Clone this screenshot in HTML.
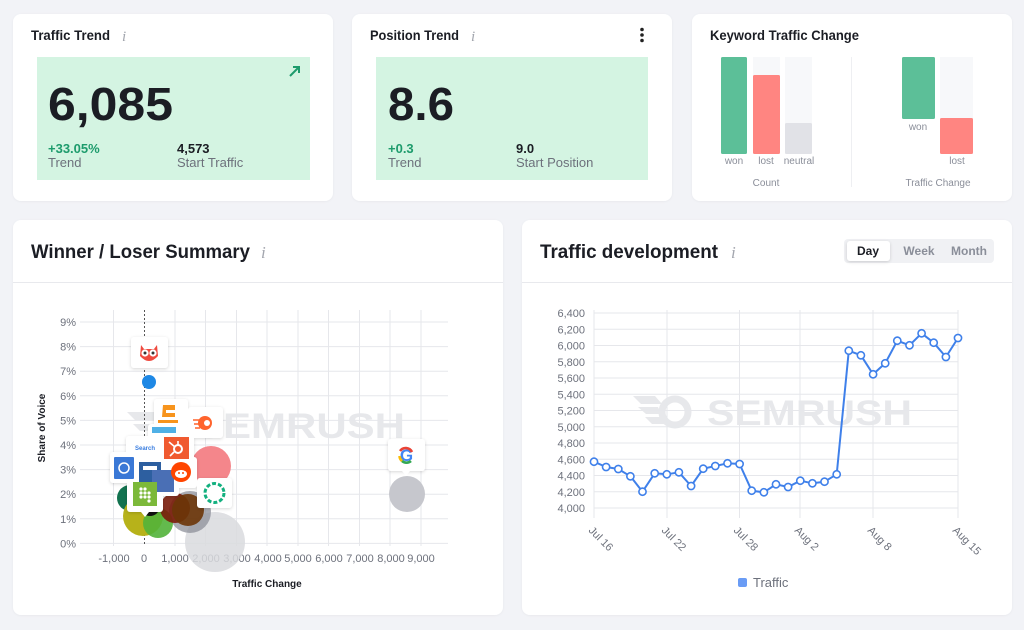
<!DOCTYPE html>
<html><head><meta charset="utf-8"><style>
html,body{margin:0;padding:0;background:#f2f3f7;}
body{width:1024px;height:630px;overflow:hidden;position:relative;font-family:"Liberation Sans",sans-serif;}
svg{position:absolute;left:0;top:0;}
</style></head><body>
<svg width="1024" height="630" viewBox="0 0 1024 630" xmlns="http://www.w3.org/2000/svg" font-family="Liberation Sans, sans-serif">
<defs>
<filter id="sh" x="-30%" y="-30%" width="160%" height="160%"><feDropShadow dx="0" dy="1" stdDeviation="1.6" flood-color="#000" flood-opacity="0.16"/></filter>
<filter id="cs" x="-5%" y="-5%" width="110%" height="110%"><feDropShadow dx="0" dy="0.5" stdDeviation="1" flood-color="#000" flood-opacity="0.05"/></filter>
</defs>
<rect width="1024" height="630" fill="#f2f3f7"/>
<!-- cards -->
<rect x="13" y="14" width="320" height="187" rx="8" fill="#fff" filter="url(#cs)"/>
<rect x="352" y="14" width="320" height="187" rx="8" fill="#fff" filter="url(#cs)"/>
<rect x="692" y="14" width="320" height="187" rx="8" fill="#fff" filter="url(#cs)"/>
<rect x="13" y="220" width="490" height="395" rx="8" fill="#fff" filter="url(#cs)"/>
<rect x="522" y="220" width="490" height="395" rx="8" fill="#fff" filter="url(#cs)"/>
<line x1="13" y1="282.5" x2="503" y2="282.5" stroke="#e8e9ed"/>
<line x1="522" y1="282.5" x2="1012" y2="282.5" stroke="#e8e9ed"/>

<!-- Traffic Trend -->
<text x="31" y="40" font-size="14" font-weight="bold" fill="#1b1d24" textLength="79" lengthAdjust="spacingAndGlyphs">Traffic Trend</text>
<text x="122" y="41" font-size="15" font-family="Liberation Serif, serif" font-style="italic" fill="#a3a6ae">i</text>
<rect x="37" y="57" width="273" height="123" fill="#d4f4e2"/>
<path d="M290 76 L299 67 M293 67 L299 67 L299 73" stroke="#1d9b6c" stroke-width="2" fill="none"/>
<text x="48" y="120" font-size="46" font-weight="bold" fill="#1b1d24" textLength="125" lengthAdjust="spacingAndGlyphs">6,085</text>
<text x="48" y="153" font-size="13" font-weight="bold" fill="#1d9b6c">+33.05%</text>
<text x="48" y="167" font-size="13" fill="#6d717c">Trend</text>
<text x="177" y="153" font-size="13" font-weight="bold" fill="#1b1d24">4,573</text>
<text x="177" y="167" font-size="13" fill="#6d717c">Start Traffic</text>

<!-- Position Trend -->
<text x="370" y="40" font-size="14" font-weight="bold" fill="#1b1d24" textLength="89" lengthAdjust="spacingAndGlyphs">Position Trend</text>
<text x="471" y="41" font-size="15" font-family="Liberation Serif, serif" font-style="italic" fill="#a3a6ae">i</text>
<circle cx="642" cy="29.5" r="1.8" fill="#222"/><circle cx="642" cy="35" r="1.8" fill="#222"/><circle cx="642" cy="40.5" r="1.8" fill="#222"/>
<rect x="376" y="57" width="272" height="123" fill="#d4f4e2"/>
<text x="388" y="120" font-size="46" font-weight="bold" fill="#1b1d24" textLength="66" lengthAdjust="spacingAndGlyphs">8.6</text>
<text x="388" y="153" font-size="13" font-weight="bold" fill="#1d9b6c">+0.3</text>
<text x="388" y="167" font-size="13" fill="#6d717c">Trend</text>
<text x="516" y="153" font-size="13" font-weight="bold" fill="#1b1d24">9.0</text>
<text x="516" y="167" font-size="13" fill="#6d717c">Start Position</text>

<!-- Keyword Traffic Change -->
<text x="710" y="40" font-size="13.5" font-weight="bold" fill="#1b1d24" textLength="149" lengthAdjust="spacingAndGlyphs">Keyword Traffic Change</text>
<rect x="753" y="57" width="27" height="97" fill="#f7f8fa"/>
<rect x="785" y="57" width="27" height="97" fill="#f7f8fa"/>
<rect x="721" y="57" width="26" height="97" rx="1.5" fill="#5cbf98"/>
<rect x="753" y="75" width="27" height="79" rx="1.5" fill="#ff8581"/>
<rect x="785" y="123" width="27" height="31" rx="1.5" fill="#e1e2e7"/>
<g font-size="10" fill="#8a8e99" text-anchor="middle">
<text x="734" y="164">won</text><text x="766" y="164">lost</text><text x="799" y="164">neutral</text>
<text x="766" y="186">Count</text>
<text x="918" y="130">won</text><text x="957" y="164">lost</text>
<text x="938" y="186">Traffic Change</text>
</g>
<line x1="851.5" y1="57" x2="851.5" y2="187" stroke="#eeeff2"/>
<rect x="940" y="57" width="33" height="97" fill="#f7f8fa"/>
<rect x="902" y="57" width="33" height="62" rx="1.5" fill="#5cbf98"/>
<rect x="940" y="118" width="33" height="36" rx="1.5" fill="#ff8581"/>

<!-- Winner / Loser Summary -->
<text x="31" y="258" font-size="19.5" font-weight="bold" fill="#1b1d24" textLength="219" lengthAdjust="spacingAndGlyphs">Winner / Loser Summary</text>
<text x="261" y="258" font-size="17" font-family="Liberation Serif, serif" font-style="italic" fill="#a3a6ae">i</text>

<!-- watermark left -->
<g fill="#e7e8eb">
<polygon points="127,412 160,412 168,420 135,420"/>
<polygon points="133,424 162,424 166,431 140,431"/>
<circle cx="178" cy="424" r="13" fill="none" stroke="#e7e8eb" stroke-width="6"/>
<text x="195" y="438" font-size="35" font-weight="bold" textLength="210" lengthAdjust="spacingAndGlyphs">SEMRUSH</text>
</g>
<!-- grid left -->
<g stroke="#e6e7eb" stroke-width="1">
<line x1="80" y1="322" x2="448" y2="322"/><line x1="80" y1="346.6" x2="448" y2="346.6"/>
<line x1="80" y1="371.2" x2="448" y2="371.2"/><line x1="80" y1="395.8" x2="448" y2="395.8"/>
<line x1="80" y1="420.4" x2="448" y2="420.4"/><line x1="80" y1="445" x2="448" y2="445"/>
<line x1="80" y1="469.6" x2="448" y2="469.6"/><line x1="80" y1="494.2" x2="448" y2="494.2"/>
<line x1="80" y1="518.8" x2="448" y2="518.8"/><line x1="80" y1="543.4" x2="448" y2="543.4"/>
<line x1="113.5" y1="310" x2="113.5" y2="546"/><line x1="175" y1="310" x2="175" y2="546"/>
<line x1="205.5" y1="310" x2="205.5" y2="546"/><line x1="236.5" y1="310" x2="236.5" y2="546"/>
<line x1="267" y1="310" x2="267" y2="546"/><line x1="298" y1="310" x2="298" y2="546"/>
<line x1="328.5" y1="310" x2="328.5" y2="546"/><line x1="359.5" y1="310" x2="359.5" y2="546"/>
<line x1="390" y1="310" x2="390" y2="546"/><line x1="421" y1="310" x2="421" y2="546"/>
</g>
<line x1="144.5" y1="310" x2="144.5" y2="546" stroke="#555" stroke-dasharray="2,2"/>
<g font-size="11" fill="#6d717c" text-anchor="end">
<text x="76" y="326">9%</text><text x="76" y="350.6">8%</text><text x="76" y="375.2">7%</text>
<text x="76" y="399.8">6%</text><text x="76" y="424.4">5%</text><text x="76" y="449">4%</text>
<text x="76" y="473.6">3%</text><text x="76" y="498.2">2%</text><text x="76" y="522.8">1%</text>
<text x="76" y="547.4">0%</text>
</g>
<g font-size="11" fill="#6d717c" text-anchor="middle">
<text x="114" y="562">-1,000</text><text x="144" y="562">0</text><text x="175" y="562">1,000</text>
<text x="206" y="562">2,000</text><text x="237" y="562">3,000</text><text x="268" y="562">4,000</text>
<text x="298" y="562">5,000</text><text x="329" y="562">6,000</text><text x="360" y="562">7,000</text>
<text x="391" y="562">8,000</text><text x="421" y="562">9,000</text>
</g>
<text x="267" y="587" font-size="10" font-weight="bold" fill="#1b1d24" text-anchor="middle">Traffic Change</text>
<text transform="translate(45,428) rotate(-90)" font-size="10" font-weight="bold" fill="#1b1d24" text-anchor="middle">Share of Voice</text>

<!-- bubbles -->
<circle cx="215" cy="542" r="30" fill="#d9dade" opacity="0.85"/>
<circle cx="190" cy="512" r="21" fill="#8e9099" opacity="0.75"/>
<circle cx="211" cy="466" r="20" fill="#f4868b"/>
<circle cx="130" cy="498" r="13" fill="#12724f"/>
<circle cx="143" cy="516" r="20" fill="#b7b21a"/>
<circle cx="158" cy="523" r="15" fill="#52b33a" opacity="0.9"/>
<circle cx="150" cy="506" r="10" fill="#111"/>
<circle cx="175" cy="508" r="15" fill="#7a1c0a" opacity="0.9"/>
<circle cx="188" cy="510" r="16" fill="#6b3508" opacity="0.9"/>
<circle cx="407" cy="494" r="18" fill="#c6c7cd"/>
<circle cx="149" cy="382" r="7" fill="#1e88e5"/>

<!-- icon cards -->
<g filter="url(#sh)">
<rect x="154" y="399" width="34" height="30" rx="3" fill="#fff"/>
<rect x="148" y="424" width="40" height="24" rx="3" fill="#fff"/>
<rect x="188" y="407" width="35" height="31" rx="3" fill="#fff"/>
<rect x="126" y="436" width="38" height="28" rx="3" fill="#fff"/>
<rect x="158" y="433" width="36" height="30" rx="3" fill="#fff"/>
<rect x="110" y="452" width="30" height="31" rx="3" fill="#fff"/>
<rect x="133" y="458" width="34" height="30" rx="3" fill="#fff"/>
<rect x="147" y="466" width="32" height="30" rx="3" fill="#fff"/>
<rect x="165" y="457" width="32" height="31" rx="3" fill="#fff"/>
<rect x="197" y="478" width="35" height="30" rx="3" fill="#fff"/>
<rect x="127" y="475" width="36" height="37" rx="3" fill="#fff"/>
<rect x="131" y="337" width="37" height="31" rx="3" fill="#fff"/>
<rect x="388" y="439" width="37" height="32" rx="3" fill="#fff"/>
</g>
<!-- icons -->
<path d="M163 405 h12 v5 h-9 v3 h9 v4 h-13 z" fill="#f7941d"/>
<rect x="158" y="420" width="20" height="3" fill="#f7941d"/>
<rect x="152" y="427" width="24" height="6" fill="#4fb0e6"/>
<circle cx="205" cy="423" r="7" fill="#ff642d"/><circle cx="207" cy="423" r="3" fill="#fff"/>
<path d="M193 420 h6 M194 424 h5 M195 428 h5" stroke="#ff642d" stroke-width="1.5"/>
<text x="145" y="450" font-size="6" font-weight="bold" fill="#3a7ee0" text-anchor="middle">Search</text>
<rect x="164" y="437" width="25" height="22" fill="#f05a30"/>
<circle cx="178" cy="449" r="4" fill="none" stroke="#fff" stroke-width="2"/>
<path d="M169 442 L175 447 M178 441 V445 M174 452 L170 456" stroke="#fff" stroke-width="1.6"/>
<rect x="114" y="457" width="20" height="22" rx="1" fill="#3a78d6"/>
<circle cx="124" cy="468" r="5" fill="none" stroke="#fff" stroke-width="1.5"/>
<rect x="139" y="462" width="22" height="22" fill="#2d5fa0"/><rect x="143" y="466" width="14" height="4" fill="#fff"/>
<rect x="152" y="470" width="22" height="22" fill="#4a6fb5"/>
<circle cx="181" cy="472" r="10" fill="#ff4500"/><ellipse cx="181" cy="474" rx="6" ry="4" fill="#fff"/>
<circle cx="179" cy="473" r="1" fill="#ff4500"/><circle cx="183" cy="473" r="1" fill="#ff4500"/>
<circle cx="214.5" cy="493" r="9.5" fill="none" stroke="#13b07f" stroke-width="3" stroke-dasharray="4,2"/>
<rect x="133" y="482" width="24" height="24" fill="#7cb93a"/>
<g fill="#fff"><circle cx="141" cy="489" r="1.6"/><circle cx="145" cy="489" r="1.6"/><circle cx="141" cy="493" r="1.6"/><circle cx="145" cy="493" r="1.6"/><circle cx="149" cy="493" r="1.6"/><circle cx="145" cy="497" r="1.6"/><circle cx="149" cy="497" r="1.6"/><circle cx="141" cy="497" r="1.6"/><circle cx="149" cy="501" r="1.6"/></g>
<path d="M141 512 L145 517 L149 512 z" fill="#fff"/>
<path d="M141 345 L144 349 L154 349 L157 345 L158 356 Q149 366 140 356 Z" fill="#ef4a3f"/>
<circle cx="145" cy="353" r="3.6" fill="#fff"/><circle cx="153" cy="353" r="3.6" fill="#fff"/>
<circle cx="145" cy="353" r="1.5" fill="#333"/><circle cx="153" cy="353" r="1.5" fill="#333"/>
<path d="M402 471 L406 476 L410 471 z" fill="#fff"/>
<text x="406.5" y="461" font-size="17" font-weight="bold" fill="#4285f4" text-anchor="middle">G</text>
<path d="M400 451 A7 7 0 0 1 412 452" stroke="#ea4335" stroke-width="2.6" fill="none"/>
<path d="M399.5 456 A7 7 0 0 0 402 461" stroke="#fbbc05" stroke-width="2.6" fill="none"/>
<path d="M402 461 A7 7 0 0 0 411 461" stroke="#34a853" stroke-width="2.6" fill="none"/>

<!-- Traffic development -->
<text x="540" y="258" font-size="19.5" font-weight="bold" fill="#1b1d24" textLength="178" lengthAdjust="spacingAndGlyphs">Traffic development</text>
<text x="731" y="258" font-size="17" font-family="Liberation Serif, serif" font-style="italic" fill="#a3a6ae">i</text>
<rect x="844" y="239" width="150" height="24" rx="4" fill="#f0f1f4"/>
<rect x="847" y="241" width="43" height="20" rx="3" fill="#fff" filter="url(#sh)"/>
<text x="868" y="255" font-size="12" font-weight="bold" fill="#1b1d24" text-anchor="middle">Day</text>
<text x="919" y="255" font-size="12" font-weight="bold" fill="#8a8e99" text-anchor="middle">Week</text>
<text x="969" y="255" font-size="12" font-weight="bold" fill="#8a8e99" text-anchor="middle">Month</text>

<!-- watermark right -->
<g fill="#e7e8eb">
<polygon points="633,396 655,396 662,404 641,404"/>
<polygon points="638,407 658,407 661,414 646,414"/>
<polygon points="645,417 660,417 664,424 652,424"/>
<circle cx="675" cy="412" r="13" fill="none" stroke="#e7e8eb" stroke-width="7"/>
<text x="707" y="425" font-size="35" font-weight="bold" textLength="205" lengthAdjust="spacingAndGlyphs">SEMRUSH</text>
</g>
<g stroke="#e6e7eb" stroke-width="1">
<line x1="594" y1="508" x2="958" y2="508"/><line x1="594" y1="491.75" x2="958" y2="491.75"/>
<line x1="594" y1="475.5" x2="958" y2="475.5"/><line x1="594" y1="459.25" x2="958" y2="459.25"/>
<line x1="594" y1="443" x2="958" y2="443"/><line x1="594" y1="426.75" x2="958" y2="426.75"/>
<line x1="594" y1="410.5" x2="958" y2="410.5"/><line x1="594" y1="394.25" x2="958" y2="394.25"/>
<line x1="594" y1="378" x2="958" y2="378"/><line x1="594" y1="361.75" x2="958" y2="361.75"/>
<line x1="594" y1="345.5" x2="958" y2="345.5"/><line x1="594" y1="329.25" x2="958" y2="329.25"/>
<line x1="594" y1="313" x2="958" y2="313"/>
<line x1="594" y1="310" x2="594" y2="518"/><line x1="667" y1="310" x2="667" y2="518"/>
<line x1="739.5" y1="310" x2="739.5" y2="518"/><line x1="800" y1="310" x2="800" y2="518"/>
<line x1="873" y1="310" x2="873" y2="518"/><line x1="958" y1="310" x2="958" y2="518"/>
</g>
<g font-size="11" fill="#6d717c" text-anchor="end">
<text x="585" y="512">4,000</text><text x="585" y="495.75">4,200</text><text x="585" y="479.5">4,400</text>
<text x="585" y="463.25">4,600</text><text x="585" y="447">4,800</text><text x="585" y="430.75">5,000</text>
<text x="585" y="414.5">5,200</text><text x="585" y="398.25">5,400</text><text x="585" y="382">5,600</text>
<text x="585" y="365.75">5,800</text><text x="585" y="349.5">6,000</text><text x="585" y="333.25">6,200</text>
<text x="585" y="317">6,400</text>
</g>
<g font-size="11" fill="#6d717c">
<text transform="translate(588,531) rotate(45)">Jul 16</text>
<text transform="translate(661,531) rotate(45)">Jul 22</text>
<text transform="translate(733,531) rotate(45)">Jul 28</text>
<text transform="translate(794,531) rotate(45)">Aug 2</text>
<text transform="translate(867,531) rotate(45)">Aug 8</text>
<text transform="translate(952,531) rotate(45)">Aug 15</text>
</g>
<polyline fill="none" stroke="#3f80ea" stroke-width="2" stroke-linejoin="round" points="594.0,461.7 606.1,467.0 618.3,469.0 630.4,476.3 642.5,491.7 654.7,473.3 666.8,474.3 678.9,472.3 691.1,486.0 703.2,468.7 715.3,466.0 727.5,463.3 739.6,464.0 751.7,490.7 763.9,492.3 776.0,484.3 788.1,487.0 800.3,480.7 812.4,483.3 824.5,481.7 836.7,474.3 848.8,350.7 860.9,355.3 873.1,374.3 885.2,363.3 897.3,340.7 909.5,345.3 921.6,333.3 933.7,342.7 945.9,357.0 958.0,338.0"/>
<g fill="#fff" stroke="#3f80ea" stroke-width="1.6">
<circle cx="594.0" cy="461.7" r="3.6"/><circle cx="606.1" cy="467.0" r="3.6"/><circle cx="618.3" cy="469.0" r="3.6"/>
<circle cx="630.4" cy="476.3" r="3.6"/><circle cx="642.5" cy="491.7" r="3.6"/><circle cx="654.7" cy="473.3" r="3.6"/>
<circle cx="666.8" cy="474.3" r="3.6"/><circle cx="678.9" cy="472.3" r="3.6"/><circle cx="691.1" cy="486.0" r="3.6"/>
<circle cx="703.2" cy="468.7" r="3.6"/><circle cx="715.3" cy="466.0" r="3.6"/><circle cx="727.5" cy="463.3" r="3.6"/>
<circle cx="739.6" cy="464.0" r="3.6"/><circle cx="751.7" cy="490.7" r="3.6"/><circle cx="763.9" cy="492.3" r="3.6"/>
<circle cx="776.0" cy="484.3" r="3.6"/><circle cx="788.1" cy="487.0" r="3.6"/><circle cx="800.3" cy="480.7" r="3.6"/>
<circle cx="812.4" cy="483.3" r="3.6"/><circle cx="824.5" cy="481.7" r="3.6"/><circle cx="836.7" cy="474.3" r="3.6"/>
<circle cx="848.8" cy="350.7" r="3.6"/><circle cx="860.9" cy="355.3" r="3.6"/><circle cx="873.1" cy="374.3" r="3.6"/>
<circle cx="885.2" cy="363.3" r="3.6"/><circle cx="897.3" cy="340.7" r="3.6"/><circle cx="909.5" cy="345.3" r="3.6"/>
<circle cx="921.6" cy="333.3" r="3.6"/><circle cx="933.7" cy="342.7" r="3.6"/><circle cx="945.9" cy="357.0" r="3.6"/>
<circle cx="958.0" cy="338.0" r="3.6"/>
</g>
<rect x="738" y="578" width="9" height="9" rx="2" fill="#6a9cf5"/>
<text x="753" y="587" font-size="13" fill="#6d717c">Traffic</text>
</svg>
</body></html>
